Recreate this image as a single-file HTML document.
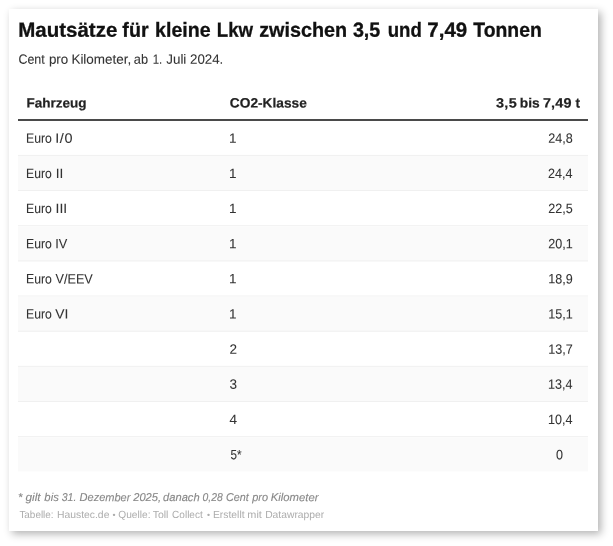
<!DOCTYPE html>
<html lang="de">
<head>
<meta charset="utf-8">
<title>Mautsätze für kleine Lkw zwischen 3,5 und 7,49 Tonnen</title>
<style>
  html, body { margin: 0; padding: 0; background: #fff; }
  body { width: 613px; height: 546px; overflow: hidden; position: relative;
         font-family: "Liberation Sans", Arial, sans-serif; color: #333; }
  .card { position: absolute; left: 9px; top: 9px; width: 589px; height: 522px;
          background: #fff; box-shadow: 3px 3px 8px rgba(0,0,0,0.3); }
  .ln { position: absolute; left: 0; top: 0; width: 613px; height: 0; margin: 0; padding: 0; line-height: 1; white-space: nowrap; font-weight: normal; }
  .w { position: absolute; left: 0; top: 0; white-space: nowrap; line-height: 1; transform-origin: 0 0; -webkit-text-stroke: 0.08px currentColor; }
  .b { display: inline-block; }
  h1.title { font-size: 20.4px; font-weight: bold; color: #111; }
  h1.title .w { -webkit-text-stroke-width: 0.3px; }
  p.sub { font-size: 13.5px; color: #333; }
  p.sub .w { -webkit-text-stroke-width: 0.08px; }
  .table { position: absolute; left: 18px; top: 0; width: 570px; height: 0; font-size: 13.5px; }
  .row { position: absolute; left: 0; top: 0; width: 570px; height: 35px; box-sizing: border-box; border-bottom: 1px solid #f0f0f0; line-height: 1; transform-origin: 0 0; }
  .row.last { border-bottom: 0; height: 34px; }
  .row.alt { background: #fafafa; }
  .row.head { height: 35px; border-bottom: 2px solid #4a4a4a; font-weight: bold; font-size: 13.5px; color: #222; }
  .row.head .w { -webkit-text-stroke-width: 0.2px; }
  .cell { position: absolute; top: 0; left: 0; width: 0; height: 0; }
  .notes { font-size: 11.4px; font-style: italic; color: #888; }
  .notes .w { -webkit-text-stroke-width: 0.12px; }
  .footer { font-size: 10.3px; color: #adadad; }
  .footer .w { -webkit-text-stroke-width: 0px; }
</style>
</head>
<body>
<div class="card"></div>
<h1 class="ln title"><span class="w" style="transform:matrix(1.0048,0.001,0,1,18.27,19.75)">Mautsätze</span> <span class="w" style="transform:matrix(0.9642,0.001,0,1,122.37,19.75)">für</span> <span class="w" style="transform:matrix(0.9605,0.001,0,1,155.09,19.75)">kleine</span> <span class="w" style="transform:matrix(0.9144,0.001,0,1,216.78,19.75)">Lkw</span> <span class="w" style="transform:matrix(0.9711,0.001,0,1,259.15,19.75)">zwischen</span> <span class="w" style="transform:matrix(0.9685,0.001,0,1,352.89,19.75)">3,5</span> <span class="w" style="transform:matrix(0.9118,0.001,0,1,387.71,19.75)">und</span> <span class="w" style="transform:matrix(1.0076,0.001,0,1,427.26,19.75)">7,49</span> <span class="w" style="transform:matrix(0.9500,0.001,0,1,473.27,19.75)">Tonnen</span></h1>
<p class="ln sub"><span class="w" style="transform:matrix(0.9245,0.001,0,1,18.38,52.68)">Cent</span> <span class="w" style="transform:matrix(0.9906,0.001,0,1,48.88,52.68)">pro</span> <span class="w" style="transform:matrix(0.9990,0.001,0,1,71.38,52.68)">Kilometer,</span> <span class="w" style="transform:matrix(0.9439,0.001,0,1,133.86,52.68)">ab</span> <span class="w" style="transform:matrix(0.8500,0.001,0,1,152.71,52.68)">1.</span> <span class="w" style="transform:matrix(0.9934,0.001,0,1,166.23,52.68)">Juli</span> <span class="w" style="transform:matrix(0.9873,0.001,0,1,189.97,52.68)">2024.</span></p>
<div class="table" role="table">
  <div class="row head" role="row" style="transform:translateY(86.00px)">
    <div class="cell" role="columnheader"><span class="w" style="transform:matrix(1.0023,0.001,0,1,8.47,10.55)">Fahrzeug</span></div>
    <div class="cell" role="columnheader"><span class="w" style="transform:matrix(1.0162,0.001,0,1,211.80,10.55)">CO2-Klasse</span></div>
    <div class="cell" role="columnheader"><span class="w" style="transform:matrix(1.0700,0.001,0,1,477.94,10.55);letter-spacing:0.301px">3,5</span> <span class="w" style="transform:matrix(1.0211,0.001,0,1,501.73,10.55)">bis</span> <span class="w" style="transform:matrix(1.0700,0.001,0,1,524.90,10.55);letter-spacing:0.138px">7,49</span> <span class="w" style="transform:matrix(1.0000,0.001,0,1,557.60,10.55)">t</span></div>
  </div>
  <div class="row" role="row" style="transform:translateY(120.90px)">
    <div class="cell" role="cell"><span class="w" style="transform:matrix(0.9074,0.001,0,1,7.99,10.83)">Euro</span> <span class="w" style="transform:matrix(1.0700,0.001,0,1,37.17,10.83);letter-spacing:0.583px">I/0</span></div>
    <div class="cell" role="cell"><span class="w" style="transform:matrix(1.0000,0.001,0,1,211.01,10.83)">1</span></div>
    <div class="cell" role="cell"><span class="w" style="transform:matrix(0.9324,0.001,0,1,530.20,10.83)">24,8</span></div>
  </div>
  <div class="row alt" role="row" style="transform:translateY(156.06px)">
    <div class="cell" role="cell"><span class="w" style="transform:matrix(0.8999,0.001,0,1,8.09,10.83)">Euro</span> <span class="w" style="transform:matrix(1.0066,0.001,0,1,37.64,10.83)">II</span></div>
    <div class="cell" role="cell"><span class="w" style="transform:matrix(1.0000,0.001,0,1,211.06,10.83)">1</span></div>
    <div class="cell" role="cell"><span class="w" style="transform:matrix(0.9324,0.001,0,1,529.96,10.83)">24,4</span></div>
  </div>
  <div class="row" role="row" style="transform:translateY(191.22px)">
    <div class="cell" role="cell"><span class="w" style="transform:matrix(0.9036,0.001,0,1,7.99,10.83)">Euro</span> <span class="w" style="transform:matrix(1.0282,0.001,0,1,37.62,10.83)">III</span></div>
    <div class="cell" role="cell"><span class="w" style="transform:matrix(1.0000,0.001,0,1,211.01,10.83)">1</span></div>
    <div class="cell" role="cell"><span class="w" style="transform:matrix(0.9324,0.001,0,1,530.22,10.83)">22,5</span></div>
  </div>
  <div class="row alt" role="row" style="transform:translateY(226.38px)">
    <div class="cell" role="cell"><span class="w" style="transform:matrix(0.9036,0.001,0,1,8.09,10.83)">Euro</span> <span class="w" style="transform:matrix(0.9474,0.001,0,1,37.32,10.83)">IV</span></div>
    <div class="cell" role="cell"><span class="w" style="transform:matrix(1.0000,0.001,0,1,210.91,10.83)">1</span></div>
    <div class="cell" role="cell"><span class="w" style="transform:matrix(0.9324,0.001,0,1,530.21,10.83)">20,1</span></div>
  </div>
  <div class="row" role="row" style="transform:translateY(261.54px)">
    <div class="cell" role="cell"><span class="w" style="transform:matrix(0.9074,0.001,0,1,7.99,10.83)">Euro</span> <span class="w" style="transform:matrix(0.9389,0.001,0,1,37.47,10.83)">V/EEV</span></div>
    <div class="cell" role="cell"><span class="w" style="transform:matrix(1.0000,0.001,0,1,211.01,10.83)">1</span></div>
    <div class="cell" role="cell"><span class="w" style="transform:matrix(0.9324,0.001,0,1,530.24,10.83)">18,9</span></div>
  </div>
  <div class="row alt" role="row" style="transform:translateY(296.70px)">
    <div class="cell" role="cell"><span class="w" style="transform:matrix(0.9036,0.001,0,1,8.09,10.83)">Euro</span> <span class="w" style="transform:matrix(1.0282,0.001,0,1,37.24,10.83)">VI</span></div>
    <div class="cell" role="cell"><span class="w" style="transform:matrix(1.0000,0.001,0,1,211.01,10.83)">1</span></div>
    <div class="cell" role="cell"><span class="w" style="transform:matrix(0.9324,0.001,0,1,530.21,10.83)">15,1</span></div>
  </div>
  <div class="row" role="row" style="transform:translateY(331.86px)">
    <div class="cell" role="cell"></div>
    <div class="cell" role="cell"><span class="w" style="transform:matrix(1.0000,0.001,0,1,211.57,10.83)">2</span></div>
    <div class="cell" role="cell"><span class="w" style="transform:matrix(0.9324,0.001,0,1,530.24,10.83)">13,7</span></div>
  </div>
  <div class="row alt" role="row" style="transform:translateY(367.02px)">
    <div class="cell" role="cell"></div>
    <div class="cell" role="cell"><span class="w" style="transform:matrix(1.0000,0.001,0,1,211.58,10.83)">3</span></div>
    <div class="cell" role="cell"><span class="w" style="transform:matrix(0.9324,0.001,0,1,529.96,10.83)">13,4</span></div>
  </div>
  <div class="row" role="row" style="transform:translateY(402.18px)">
    <div class="cell" role="cell"></div>
    <div class="cell" role="cell"><span class="w" style="transform:matrix(1.0000,0.001,0,1,211.48,10.83)">4</span></div>
    <div class="cell" role="cell"><span class="w" style="transform:matrix(0.9324,0.001,0,1,529.96,10.83)">10,4</span></div>
  </div>
  <div class="row alt last" role="row" style="transform:translateY(437.34px)">
    <div class="cell" role="cell"></div>
    <div class="cell" role="cell"><span class="w" style="transform:matrix(0.8650,0.001,0,1,212.42,10.83)">5*</span></div>
    <div class="cell" role="cell"><span class="w" style="transform:matrix(0.9324,0.001,0,1,537.88,10.83)">0</span></div>
  </div>
</div>
<p class="ln notes"><span class="w" style="transform:matrix(1.0000,0.001,0,1,18.12,492.10)">*</span> <span class="w" style="transform:matrix(1.0390,0.001,0,1,25.43,492.10)">gilt</span> <span class="w" style="transform:matrix(0.9939,0.001,0,1,44.35,492.10)">bis</span> <span class="w" style="transform:matrix(0.9241,0.001,0,1,61.73,492.10)">31.</span> <span class="w" style="transform:matrix(0.9666,0.001,0,1,79.62,492.10)">Dezember</span> <span class="w" style="transform:matrix(0.9753,0.001,0,1,133.22,492.10)">2025,</span> <span class="w" style="transform:matrix(0.9755,0.001,0,1,163.11,492.10)">danach</span> <span class="w" style="transform:matrix(0.9086,0.001,0,1,202.58,492.10)">0,28</span> <span class="w" style="transform:matrix(0.9419,0.001,0,1,226.05,492.10)">Cent</span> <span class="w" style="transform:matrix(0.9626,0.001,0,1,252.13,492.10)">pro</span> <span class="w" style="transform:matrix(0.9935,0.001,0,1,270.71,492.10)">Kilometer</span></p>
<p class="ln footer"><span class="w" style="transform:matrix(0.9645,0.001,0,1,19.38,510.06)">Tabelle:</span> <span class="w" style="transform:matrix(1.0071,0.001,0,1,56.95,510.06)">Haustec.de</span> <span class="w" style="transform:matrix(1,0.001,0,1,112.14,510.06)"><span class="b" style="transform-origin:1.81px 55%;transform:scale(0.850)">•</span></span> <span class="w" style="transform:matrix(0.9862,0.001,0,1,118.28,510.06)">Quelle:</span> <span class="w" style="transform:matrix(1.0222,0.001,0,1,152.65,510.06)">Toll</span> <span class="w" style="transform:matrix(0.9752,0.001,0,1,172.06,510.06)">Collect</span> <span class="w" style="transform:matrix(1,0.001,0,1,206.69,510.06)"><span class="b" style="transform-origin:1.81px 55%;transform:scale(0.850)">•</span></span> <span class="w" style="transform:matrix(1.0043,0.001,0,1,212.95,510.06)">Erstellt</span> <span class="w" style="transform:matrix(1.0576,0.001,0,1,247.34,510.06)">mit</span> <span class="w" style="transform:matrix(1.0032,0.001,0,1,265.15,510.06)">Datawrapper</span></p>
</body>
</html>
